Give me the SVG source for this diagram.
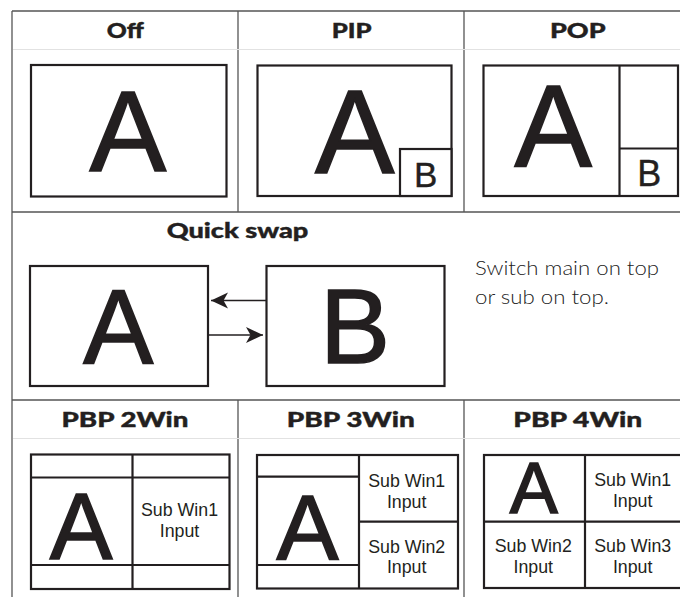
<svg xmlns="http://www.w3.org/2000/svg" width="680" height="597" viewBox="0 0 680 597">
<style>
.frame{stroke:#555;stroke-width:1.3;fill:none}
.faint{stroke:#e2e2e2;stroke-width:1;fill:none}
.box{stroke:#231f20;stroke-width:2.2;fill:#fff}
.ln{stroke:#231f20;stroke-width:2.2;fill:none}
.hd{font-family:Lato,"Open Sans","Liberation Sans",sans-serif;font-weight:900;font-size:21px;fill:#231f20;stroke:#231f20;stroke-width:0.4;text-anchor:middle}
.big{font-family:"Liberation Sans",Arial,sans-serif;fill:#231f20;stroke:#231f20;stroke-width:1.6;text-anchor:middle}
.sm{stroke-width:0.4}
.sub{font-family:"Liberation Sans",Arial,sans-serif;font-size:17.8px;fill:#231f20;text-anchor:middle}
.note{font-family:Lato,"Open Sans","Liberation Sans",sans-serif;font-weight:300;font-size:20px;fill:#222}
.arr{stroke:#231f20;stroke-width:1.6;fill:none}
</style>
<defs>
<marker id="ah" markerUnits="userSpaceOnUse" markerWidth="20" markerHeight="18" refX="17" refY="8" orient="auto">
<path d="M0,0 L17,8 L0,16 L4.5,8 Z" fill="#231f20"/>
</marker>
</defs>
<rect width="680" height="597" fill="#fff"/>
<g id="grid">
<line class="frame" x1="12" y1="11" x2="680" y2="11"/>
<line class="frame" x1="12" y1="11" x2="12" y2="597"/>
<line class="frame" x1="12" y1="212" x2="680" y2="212"/>
<line class="frame" x1="12" y1="400" x2="680" y2="400"/>
<line class="frame" x1="238" y1="11" x2="238" y2="212"/>
<line class="frame" x1="464" y1="11" x2="464" y2="212"/>
<line class="frame" x1="238" y1="400" x2="238" y2="597"/>
<line class="frame" x1="464" y1="400" x2="464" y2="597"/>
<line class="faint" x1="13" y1="49.5" x2="680" y2="49.5"/>
<line class="faint" x1="13" y1="438.5" x2="680" y2="438.5"/>
</g>
<g id="off">
<text class="hd" x="125.3" y="37.5" textLength="37" lengthAdjust="spacingAndGlyphs">Off</text>
<rect class="box" x="31" y="65" width="195.5" height="131.5"/>
<text class="big" x="127.8" y="170.7" font-size="115">A</text>
</g>
<g id="pip">
<text class="hd" x="351.7" y="37.5" textLength="40" lengthAdjust="spacingAndGlyphs">PIP</text>
<rect class="box" x="257.5" y="65.5" width="194" height="130.5"/>
<text class="big" x="354.8" y="173.3" font-size="119">A</text>
<rect class="box" x="400" y="149" width="51.5" height="47"/>
<text class="big sm" x="425.8" y="186.7" font-size="35">B</text>
</g>
<g id="pop">
<text class="hd" x="577.8" y="37.5" textLength="55.7" lengthAdjust="spacingAndGlyphs">POP</text>
<rect class="box" x="483.5" y="65.5" width="194.5" height="130.5"/>
<line class="ln" x1="619.5" y1="65.5" x2="619.5" y2="196"/>
<line class="ln" x1="619.5" y1="148.5" x2="678" y2="148.5"/>
<text class="big" x="553.3" y="166.7" font-size="116">A</text>
<text class="big sm" x="649.2" y="185.7" font-size="36">B</text>
</g>
<g id="quick-swap">
<text class="hd" x="237.5" y="238.3" textLength="141.7" lengthAdjust="spacingAndGlyphs">Quick swap</text>
<text class="note" x="475" y="275" textLength="184" lengthAdjust="spacingAndGlyphs">Switch main on top</text>
<text class="note" x="475" y="304" textLength="134" lengthAdjust="spacingAndGlyphs">or sub on top.</text>
</g>
<g id="qs-a">
<rect class="box" x="30" y="266" width="178" height="120"/>
<text class="big" x="118.3" y="363.3" font-size="105">A</text>
</g>
<g id="qs-b">
<rect class="box" x="266.5" y="266" width="178" height="120"/>
<text class="big" x="355" y="363.3" font-size="105">B</text>
</g>
<g id="connectors">
<line class="arr" x1="266.5" y1="300.5" x2="211" y2="300.5" marker-end="url(#ah)"/>
<line class="arr" x1="208" y1="335" x2="263" y2="335" marker-end="url(#ah)"/>
</g>
<g id="pbp2">
<text class="hd" x="125" y="426.7" textLength="127" lengthAdjust="spacingAndGlyphs">PBP 2Win</text>
<rect class="box" x="31" y="454.5" width="198.5" height="134.5"/>
<line class="ln" x1="132.5" y1="454.5" x2="132.5" y2="589"/>
<line class="ln" x1="31" y1="477.5" x2="229.5" y2="477.5"/>
<line class="ln" x1="31" y1="565" x2="229.5" y2="565"/>
<text class="big" x="81" y="559" font-size="94">A</text>
<text class="sub" x="179.5" y="515.7">Sub Win1</text>
<text class="sub" x="179.5" y="536.7">Input</text>
</g>
<g id="pbp3">
<text class="hd" x="350.8" y="426.7" textLength="128.3" lengthAdjust="spacingAndGlyphs">PBP 3Win</text>
<rect class="box" x="257" y="455" width="201" height="133.5"/>
<line class="ln" x1="359" y1="455" x2="359" y2="588.5"/>
<line class="ln" x1="257" y1="476.7" x2="359" y2="476.7"/>
<line class="ln" x1="257" y1="565" x2="359" y2="565"/>
<line class="ln" x1="359" y1="521.7" x2="458" y2="521.7"/>
<text class="big" x="307.5" y="560" font-size="93">A</text>
<text class="sub" x="406.7" y="486.7">Sub Win1</text>
<text class="sub" x="406.7" y="507.7">Input</text>
<text class="sub" x="406.7" y="552.7">Sub Win2</text>
<text class="sub" x="406.7" y="573.3">Input</text>
</g>
<g id="pbp4">
<text class="hd" x="577.8" y="426.7" textLength="129" lengthAdjust="spacingAndGlyphs">PBP 4Win</text>
<rect class="box" x="484" y="455" width="200" height="133"/>
<line class="ln" x1="585" y1="455" x2="585" y2="588"/>
<line class="ln" x1="484" y1="521.7" x2="684" y2="521.7"/>
<text class="big" x="533.8" y="513.3" font-size="72">A</text>
<text class="sub" x="632.7" y="486">Sub Win1</text>
<text class="sub" x="632.7" y="506.7">Input</text>
<text class="sub" x="533.3" y="551.7">Sub Win2</text>
<text class="sub" x="533.3" y="573.3">Input</text>
<text class="sub" x="632.7" y="551.7">Sub Win3</text>
<text class="sub" x="632.7" y="573.3">Input</text>
</g>
</svg>
